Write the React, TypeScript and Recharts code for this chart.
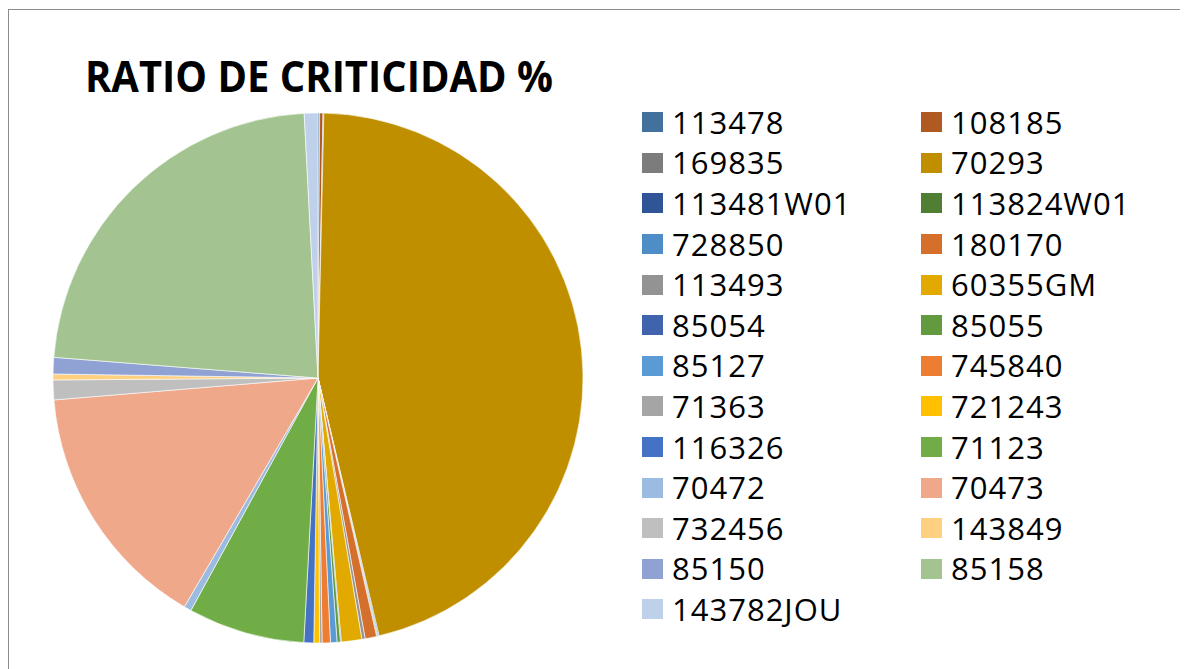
import React from 'react';
import { PieChart, Pie, Cell } from 'recharts';

// Códigos de pieza en el orden de la serie (sentido horario desde las 12)
const codes = [
  '113478', '108185', '169835', '70293', '113481W01', '113824W01', '728850',
  '180170', '113493', '60355GM', '85054', '85055', '85127', '745840', '71363',
  '721243', '116326', '71123', '70472', '70473', '732456', '143849', '85150',
  '85158', '143782JOU',
];

// Ratio de criticidad (%)
const ratios = [
  0.1, 0.2, 0.05, 45.9, 0.05, 0.05, 0.05, 0.7, 0.2, 1.25, 0.05, 0.2, 0.4, 0.5,
  0.15, 0.35, 0.6, 7.1, 0.45, 15.25, 1.2, 0.36, 1.0, 22.9, 0.83,
];

const colors = [
  '#41719C', '#AE5A21', '#7C7C7C', '#BF8F00', '#2F5597', '#507E32', '#4E8DC5',
  '#D46F2C', '#939393', '#E2AA00', '#3F63AC', '#629B3F', '#5B9BD5', '#ED7D31',
  '#A5A5A5', '#FFC000', '#4472C4', '#70AD47', '#9BBBE1', '#F0A88A', '#BFBFBF',
  '#FFD080', '#8FA2D3', '#A3C490', '#BED0EA',
];

const data = codes.map((name, i) => ({ name, value: ratios[i], color: colors[i] }));

const FONT = '"Open Sans", "Noto Sans", sans-serif';

// Leyenda en dos columnas, como en Excel
const CustomLegend = () => (
  <div
    style={{
      position: 'absolute',
      left: 633,
      top: 92,
      display: 'grid',
      gridTemplateColumns: '279px 260px',
      gridAutoRows: '40.6px',
      fontFamily: FONT,
      fontSize: 31,
      letterSpacing: 1,
      color: '#000',
    }}
  >
    {data.map((item, index) => (
      <div key={`item-${index}`} style={{ display: 'flex', alignItems: 'center' }}>
        <div style={{ width: 21, height: 20, backgroundColor: item.color, marginRight: 9 }} />
        <span style={{ lineHeight: 1 }}>{item.name}</span>
      </div>
    ))}
  </div>
);

const App: React.FC = () => {
  return (
    <div
      style={{
        position: 'relative',
        width: 1176,
        height: 660,
        marginTop: 1,
        borderTop: '1px solid #8c8c8c',
        borderLeft: '1px solid #8c8c8c',
        borderRight: '1px solid #8c8c8c',
        background: '#fff',
      }}
    >
      <svg width={1176} height={120} style={{ position: 'absolute', left: 0, top: 0 }}>
        <text
          x={76}
          y={82}
          fontFamily={FONT}
          fontWeight={700}
          fontSize={43}
          textLength={468}
          lengthAdjust="spacingAndGlyphs"
          fill="#000"
        >
          RATIO DE CRITICIDAD %
        </text>
      </svg>
      <div style={{ position: 'absolute', left: 0, top: 0 }}>
        <PieChart width={620} height={659} margin={{ top: 0, right: 0, bottom: 0, left: 0 }}>
          <Pie
            data={data}
            dataKey="value"
            nameKey="name"
            cx={309}
            cy={368}
            outerRadius={265}
            innerRadius={0}
            startAngle={90}
            endAngle={-270}
            stroke="#ffffff"
            strokeWidth={0.6}
            isAnimationActive={false}
            labelLine={false}
          >
            {data.map((entry, index) => (
              <Cell key={`cell-${index}`} fill={entry.color} />
            ))}
          </Pie>
        </PieChart>
      </div>
      <CustomLegend />
    </div>
  );
};

export default App;
